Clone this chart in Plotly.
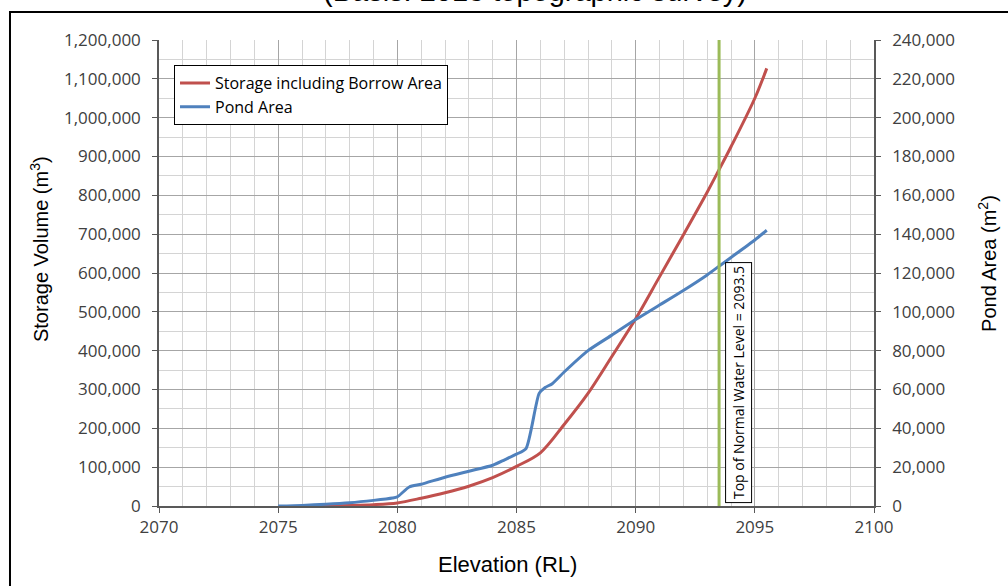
import plotly.graph_objects as go

# ---- data ----
storage_elev = [2076, 2077, 2078, 2079, 2080, 2081, 2082, 2083, 2084, 2085, 2086,
                2087, 2088, 2089, 2090, 2091, 2092, 2093, 2093.5, 2094, 2095, 2095.5]
storage_vol = [0, 500, 1500, 3500, 8000, 20000, 34000, 51000, 73000, 102000, 137000,
               210000, 290000, 385000, 482000, 590000, 698000, 808000, 866000, 925000, 1050000, 1127000]

pond_elev = [2075, 2076, 2077, 2078, 2079, 2079.8, 2080, 2080.5, 2081, 2082, 2083, 2084,
             2084.5, 2085, 2085.4, 2085.95, 2086.2, 2086.5, 2087, 2088, 2089, 2090, 2091,
             2092, 2093, 2093.5, 2094, 2095, 2095.5]
pond_area = [0, 300, 900, 1700, 2900, 4100, 4700, 9800, 11200, 14800, 17900, 21000,
             23800, 26700, 29600, 58000, 61000, 63000, 69000, 80000, 88000, 96000, 103500,
             111000, 119000, 123500, 128000, 137000, 142000]

normal_water_level = 2093.5
nwl_label = "Top of Normal Water Level = 2093.5"

x_range = [2070, 2100]
y_range = [0, 1200000]
y2_range = [0, 240000]

RED = "#C0504D"
BLUE = "#4F81BD"
GREEN = "#9BBB59"
TICKFONT = dict(family="Open Sans", size=17, color="#404040")
TITLEFONT = dict(family="Liberation Sans", size=20, color="#000000")

fig = go.Figure()
fig.add_trace(go.Scatter(x=storage_elev, y=storage_vol, mode="lines",
                         name="Storage including Borrow Area",
                         line=dict(color=RED, width=3, shape="spline", smoothing=0.9)))
fig.add_trace(go.Scatter(x=pond_elev, y=pond_area, mode="lines", name="Pond Area", yaxis="y2",
                         line=dict(color=BLUE, width=3, shape="spline", smoothing=0.6)))

fig.add_shape(type="line", xref="x", yref="paper", x0=normal_water_level, x1=normal_water_level,
              y0=0, y1=1, line=dict(color=GREEN, width=3))

fig.add_annotation(x=normal_water_level, y=0, xref="x", yref="y", text=nwl_label,
                   textangle=-90, showarrow=False, xanchor="left", yanchor="bottom",
                   xshift=6, yshift=3, bgcolor="white", bordercolor="#000000", borderwidth=1,
                   borderpad=3, font=dict(family="Open Sans", size=14, color="#000000"))

# title (cut off at top of image)
fig.add_annotation(x=0.526, y=1.06, xref="paper", yref="paper",
                   text="(Basis: 2013 topographic survey)", showarrow=False,
                   xanchor="center", yanchor="bottom", yshift=3,
                   font=dict(family="Liberation Sans", size=29, color="#000000"))

# axis titles
fig.add_annotation(x=-0.1678, y=0.5515, xref="paper", yref="paper",
                   text="Storage Volume (m<sup>3</sup>)", textangle=-90, showarrow=False,
                   xanchor="center", yanchor="middle", font=TITLEFONT)
fig.add_annotation(x=1.1594, y=0.5215, xref="paper", yref="paper",
                   text="Pond Area (m<sup>2</sup>)", textangle=-90, showarrow=False,
                   xanchor="center", yanchor="middle", font=TITLEFONT)
fig.add_annotation(x=0.488, y=-0.1266, xref="paper", yref="paper",
                   text="Elevation (RL)", showarrow=False,
                   xanchor="center", yanchor="middle",
                   font=dict(family="Liberation Sans", size=22, color="#000000"))

# outer frame
fig.add_shape(type="rect", xref="paper", yref="paper", x0=-0.2084, x1=1.4, y0=-0.5, y1=1.060,
              line=dict(color="#000000", width=2), layer="below")

fig.update_layout(
    width=1008, height=586,
    margin=dict(l=159, r=134, t=40, b=80, autoexpand=False),
    paper_bgcolor="white", plot_bgcolor="white",
    showlegend=True,
    legend=dict(x=0.021, y=0.946, xanchor="left", yanchor="top",
                bgcolor="white", bordercolor="#000000", borderwidth=1,
                font=dict(family="Open Sans", size=16, color="#000000")),
    xaxis=dict(range=x_range, dtick=5, tick0=2070, showgrid=True, gridcolor="#A6A6A6", gridwidth=1,
               minor=dict(dtick=1, showgrid=True, gridcolor="#D4D4D4", ticks=""),
               showline=True, linecolor="#595959", linewidth=1.5, ticks="outside", ticklen=5,
               tickcolor="#595959", tickfont=TICKFONT, zeroline=False, automargin=False),
    yaxis=dict(range=y_range, dtick=100000, tickformat=",", showgrid=True, gridcolor="#A6A6A6",
               minor=dict(dtick=50000, showgrid=True, gridcolor="#D4D4D4", ticks=""),
               showline=True, linecolor="#595959", linewidth=1.5, ticks="outside", ticklen=5,
               tickcolor="#595959", tickfont=TICKFONT, zeroline=False, automargin=False,
               ticklabelstandoff=8),
    yaxis2=dict(range=y2_range, dtick=20000, tickformat=",", overlaying="y", side="right",
                showgrid=False, showline=True, linecolor="#595959", linewidth=1.5, ticks="outside",
                ticklen=5, tickcolor="#595959", tickfont=TICKFONT, zeroline=False, automargin=False,
                ticklabelstandoff=8),
)

fig.write_html("out.html", config={"displayModeBar": False},
               post_script="document.body.style.margin='0';")
